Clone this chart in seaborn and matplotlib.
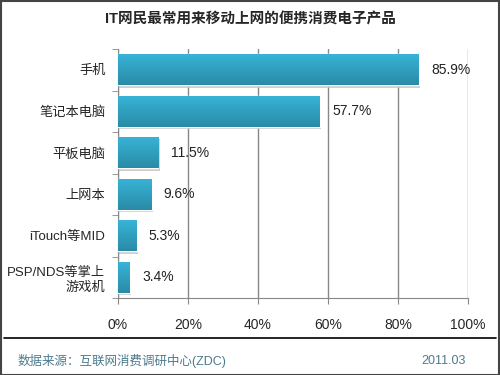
import numpy as np
import pandas as pd
import matplotlib
matplotlib.use('Agg')
import matplotlib.pyplot as plt
import seaborn as sns
from matplotlib.patches import Rectangle

# --- Data ---
categories = ['手机', '笔记本电脑', '平板电脑', '上网本', 'iTouch等MID', 'PSP/NDS等掌上\n游戏机']
values = [85.9, 57.7, 11.5, 9.6, 5.3, 3.4]
x_ticks = [0, 20, 40, 60, 80, 100]
x_tick_labels = ['0%', '20%', '40%', '60%', '80%', '100%']

TITLE = 'IT网民最常用来移动上网的便携消费电子产品'
SOURCE = '数据来源：互联网消费调研中心(ZDC)'
DATE = '2011.03'

sns.set_style('white')
plt.rcParams['font.family'] = ['Liberation Sans', 'Noto Sans CJK SC', 'DejaVu Sans']

df = pd.DataFrame({'cat': categories, 'val': values})

fig = plt.figure(figsize=(5, 3.75), dpi=100)
ax = fig.add_axes([0.236, 0.205, 0.70, 0.664])

sns.barplot(data=df, y='cat', x='val', color='#33a9cb', width=0.75,
            orient='h', ax=ax, zorder=3)

# gradient fill + soft shadow on each bar
grad = np.linspace(0, 1, 64).reshape(-1, 1)
cmap = matplotlib.colors.LinearSegmentedColormap.from_list('bar', ['#38b4d8', '#2a8ba6'])
for p in ax.patches:
    x0, y0 = p.get_x(), p.get_y()
    w, h = p.get_width(), p.get_height()
    sh = Rectangle((x0 + 0.4, y0 + 0.05), w, h, facecolor='#c4c4c4', edgecolor='none', zorder=2, alpha=0.8)
    ax.add_patch(sh)
    im = ax.imshow(grad, cmap=cmap, aspect='auto', extent=(x0, x0 + w, y0, y0 + h),
                   zorder=3.5, origin='lower')
    im.set_clip_path(p)

for i, v in enumerate(values):
    ax.text(v + 3.5, i, f'{v}%', va='center', ha='left', fontsize=10, color='#222222', zorder=5)

ax.set_xlim(0, 100)
ax.set_ylim(5.5, -0.5)
ax.set_xticks(x_ticks)
ax.set_xticklabels(x_tick_labels, fontsize=10)
ax.set_yticks(np.arange(len(categories)))
ax.set_yticklabels(categories, fontsize=9.5, linespacing=1.3)
ax.set_xlabel('')
ax.set_ylabel('')
ax.xaxis.grid(True, color='#888888', linewidth=1, zorder=0)
ax.set_axisbelow(True)
for s in ['top', 'right']:
    ax.spines[s].set_visible(False)
ax.spines['left'].set_color('#888888')
ax.spines['bottom'].set_color('#888888')
ax.tick_params(axis='x', length=4, color='#888888', pad=10, direction='out', bottom=True)
ax.tick_params(axis='y', length=0, pad=9)
# category separator ticks on the y axis
ax.set_yticks(np.arange(-0.5, len(categories), 1), minor=True)
ax.tick_params(axis='y', which='minor', length=4, color='#888888', left=True)

fig.text(0.5, 0.947, TITLE, ha='center', va='center', fontsize=10.5, fontweight='bold')
fig.add_artist(plt.Line2D([0.008, 0.992], [0.099, 0.099], color='black', linewidth=1.2))
fig.text(0.035, 0.037, SOURCE, ha='left', va='center', fontsize=9, color='#4b7b8e')
fig.text(0.932, 0.037, DATE, ha='right', va='center', fontsize=9, color='#4b7b8e')
fig.add_artist(Rectangle((0.001, 0.001), 0.997, 0.997, transform=fig.transFigure,
                         fill=False, edgecolor='#444444', linewidth=1.5))

fig.savefig('out.png', dpi=100)
